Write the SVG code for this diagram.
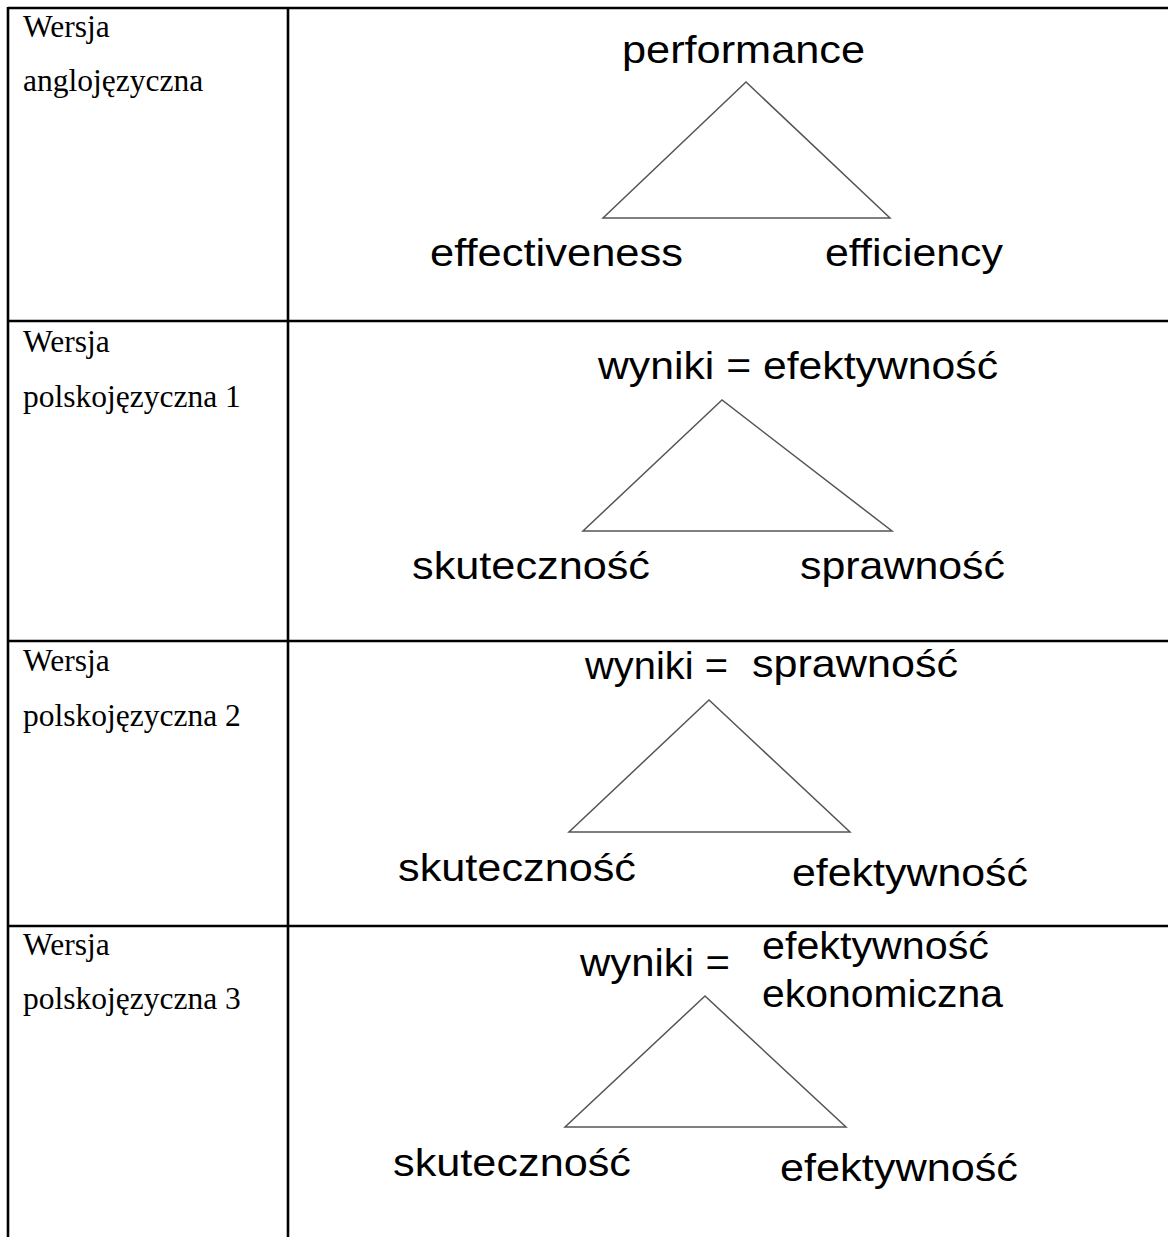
<svg xmlns="http://www.w3.org/2000/svg" width="1168" height="1237" viewBox="0 0 1168 1237">
<style>
.grid{stroke:#000;stroke-width:2.6;fill:none}
.lbl{font-family:"Liberation Serif","Times New Roman",serif;font-size:31.5px;fill:#000}
.t{font-family:"Liberation Sans",Arial,sans-serif;font-size:39px;fill:#000}
.tri{fill:none;stroke:#555;stroke-width:1.5;stroke-linejoin:miter}
</style>
<rect width="1168" height="1237" fill="#fff"/>
<g id="table">
<line class="grid" x1="8" y1="8" x2="1168" y2="8"/>
<line class="grid" x1="8" y1="321" x2="1168" y2="321"/>
<line class="grid" x1="8" y1="641" x2="1168" y2="641"/>
<line class="grid" x1="8" y1="926" x2="1168" y2="926"/>
<line class="grid" x1="8" y1="7" x2="8" y2="1237"/>
<line class="grid" x1="288" y1="7" x2="288" y2="1237"/>
</g>
<g id="row1-label"><text class="lbl" x="23" y="37">Wersja</text><text class="lbl" x="23" y="91">anglojęzyczna</text></g>
<g id="row2-label"><text class="lbl" x="23" y="352">Wersja</text><text class="lbl" x="23" y="407">polskojęzyczna 1</text></g>
<g id="row3-label"><text class="lbl" x="23" y="671">Wersja</text><text class="lbl" x="23" y="726">polskojęzyczna 2</text></g>
<g id="row4-label"><text class="lbl" x="23" y="955">Wersja</text><text class="lbl" x="23" y="1009">polskojęzyczna 3</text></g>
<g id="connectors">
<polygon class="tri" points="746,82 603,218 890,218"/>
<polygon class="tri" points="722,400 583,531 892,531"/>
<polygon class="tri" points="709,700 569,832 850,832"/>
<polygon class="tri" points="705,996 565,1127 846,1127"/>
</g>
<g id="performance"><text class="t" x="622" y="63" textLength="243" lengthAdjust="spacingAndGlyphs">performance</text></g>
<g id="effectiveness"><text class="t" x="430" y="266" textLength="253" lengthAdjust="spacingAndGlyphs">effectiveness</text></g>
<g id="efficiency"><text class="t" x="825" y="266" textLength="178" lengthAdjust="spacingAndGlyphs">efficiency</text></g>
<g id="r2-top"><text class="t" x="598" y="379" textLength="400" lengthAdjust="spacingAndGlyphs">wyniki = efektywność</text></g>
<g id="r2-left"><text class="t" x="412" y="579" textLength="238" lengthAdjust="spacingAndGlyphs">skuteczność</text></g>
<g id="r2-right"><text class="t" x="800" y="579" textLength="205" lengthAdjust="spacingAndGlyphs">sprawność</text></g>
<g id="r3-top"><text class="t" x="585" y="679" textLength="143" lengthAdjust="spacingAndGlyphs">wyniki =</text><text class="t" x="752" y="677" textLength="206" lengthAdjust="spacingAndGlyphs">sprawność</text></g>
<g id="r3-left"><text class="t" x="398" y="881" textLength="238" lengthAdjust="spacingAndGlyphs">skuteczność</text></g>
<g id="r3-right"><text class="t" x="792" y="886" textLength="236" lengthAdjust="spacingAndGlyphs">efektywność</text></g>
<g id="r4-top"><text class="t" x="580" y="976" textLength="150" lengthAdjust="spacingAndGlyphs">wyniki =</text><text class="t" x="762" y="959" textLength="227" lengthAdjust="spacingAndGlyphs">efektywność</text><text class="t" x="762" y="1007" textLength="241" lengthAdjust="spacingAndGlyphs">ekonomiczna</text></g>
<g id="r4-left"><text class="t" x="393" y="1176" textLength="238" lengthAdjust="spacingAndGlyphs">skuteczność</text></g>
<g id="r4-right"><text class="t" x="780" y="1181" textLength="238" lengthAdjust="spacingAndGlyphs">efektywność</text></g>
</svg>
